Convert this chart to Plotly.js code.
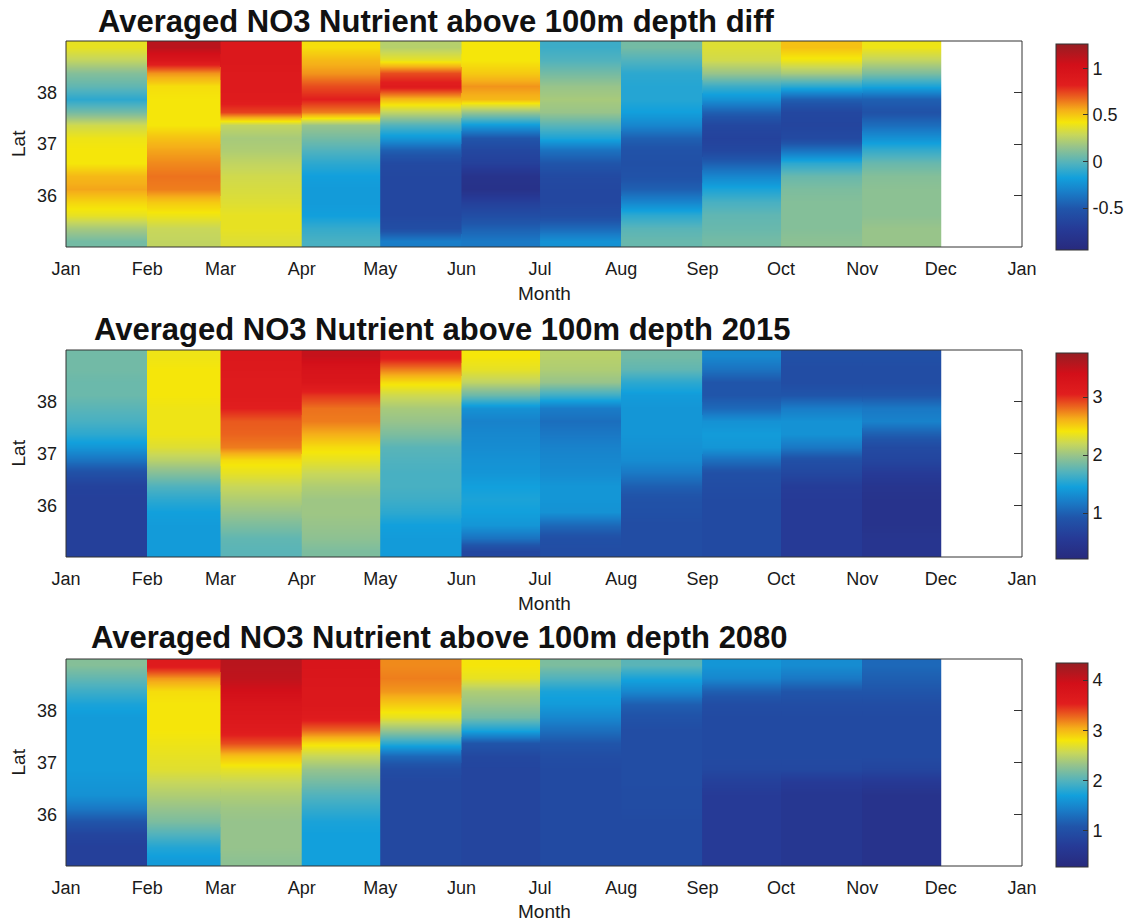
<!DOCTYPE html>
<html>
<head>
<meta charset="utf-8">
<script src="https://cdn.plot.ly/plotly-3.0.1.min.js"></script>
<style>
  html, body { margin: 0; padding: 0; background: #ffffff; }
  #chart { width: 1136px; height: 924px; }
</style>
</head>
<body>
<div id="chart"></div>
<script>
// ---------- DATA ----------
// Month bin edges (11 monthly columns, Jan..Nov)
const monthEdges = ['2015-01-01','2015-02-01','2015-03-01','2015-04-01','2015-05-01','2015-06-01',
                    '2015-07-01','2015-08-01','2015-09-01','2015-10-01','2015-11-01','2015-12-01'];
const monthTickVals = ['2015-01-01','2015-02-01','2015-03-01','2015-04-01','2015-05-01','2015-06-01',
                       '2015-07-01','2015-08-01','2015-09-01','2015-10-01','2015-11-01','2015-12-01','2016-01-01'];
const monthTickText = ['Jan','Feb','Mar','Apr','May','Jun','Jul','Aug','Sep','Oct','Nov','Dec','Jan'];
// Latitude row centres, north to south
const lat = [38.875, 38.625, 38.375, 38.125, 37.875, 37.625, 37.375, 37.125,
             36.875, 36.625, 36.375, 36.125, 35.875, 35.625, 35.375, 35.125];
const latTicks = [36, 37, 38];

// Panel 1: diff (one array per month, north -> south)
const diffCols = [
  [0.38, 0.27, 0.11, 0.02, -0.11, 0.07, 0.31, 0.40, 0.42, 0.42, 0.53, 0.57, 0.46, 0.38, 0.20, 0.07],
  [1.13, 0.93, 0.60, 0.44, 0.42, 0.42, 0.42, 0.51, 0.57, 0.62, 0.66, 0.64, 0.49, 0.40, 0.29, 0.27],
  [0.91, 0.91, 0.88, 0.88, 0.86, 0.75, 0.27, 0.20, 0.22, 0.27, 0.31, 0.33, 0.35, 0.38, 0.38, 0.35],
  [0.44, 0.53, 0.60, 0.73, 0.82, 0.64, 0.16, 0.07, -0.02, -0.11, -0.18, -0.20, -0.20, -0.18, -0.09, -0.04],
  [0.24, 0.38, 0.73, 0.86, 0.53, 0.27, -0.02, -0.22, -0.46, -0.60, -0.62, -0.62, -0.62, -0.62, -0.57, -0.33],
  [0.42, 0.42, 0.49, 0.60, 0.53, 0.16, -0.20, -0.51, -0.62, -0.68, -0.82, -0.84, -0.68, -0.57, -0.46, -0.35],
  [-0.07, -0.02, 0.07, 0.16, 0.20, 0.16, 0.00, -0.15, -0.38, -0.51, -0.60, -0.62, -0.62, -0.57, -0.42, -0.24],
  [0.07, -0.02, -0.11, -0.13, -0.13, -0.18, -0.29, -0.46, -0.53, -0.55, -0.53, -0.46, -0.29, -0.11, 0.00, 0.04],
  [0.35, 0.31, 0.16, -0.07, -0.24, -0.46, -0.62, -0.66, -0.62, -0.46, -0.29, -0.15, -0.04, 0.02, 0.04, 0.07],
  [0.51, 0.40, 0.20, -0.11, -0.46, -0.62, -0.64, -0.60, -0.38, -0.11, 0.04, 0.09, 0.11, 0.11, 0.11, 0.13],
  [0.40, 0.27, 0.09, -0.15, -0.46, -0.53, -0.40, -0.24, -0.09, 0.04, 0.11, 0.13, 0.13, 0.13, 0.16, 0.16]
];
// Panel 2: 2015
const cols2015 = [
  [1.84, 1.84, 1.81, 1.81, 1.74, 1.67, 1.56, 1.38, 1.13, 0.85, 0.67, 0.64, 0.64, 0.64, 0.64, 0.64],
  [2.38, 2.41, 2.41, 2.41, 2.38, 2.38, 2.38, 2.30, 2.13, 1.91, 1.70, 1.56, 1.45, 1.42, 1.42, 1.42],
  [3.19, 3.16, 3.12, 3.12, 3.05, 2.87, 2.84, 2.77, 2.45, 2.34, 2.20, 2.09, 1.99, 1.88, 1.77, 1.74],
  [3.48, 3.30, 3.23, 2.98, 2.80, 2.77, 2.62, 2.45, 2.34, 2.20, 2.09, 2.02, 2.02, 1.99, 1.95, 1.88],
  [3.12, 2.77, 2.45, 2.23, 2.06, 1.99, 1.88, 1.74, 1.70, 1.67, 1.67, 1.63, 1.56, 1.45, 1.42, 1.42],
  [2.41, 2.34, 2.16, 1.81, 1.35, 1.24, 1.28, 1.31, 1.35, 1.38, 1.45, 1.49, 1.45, 1.38, 1.13, 0.74],
  [2.13, 2.09, 1.99, 1.63, 1.20, 1.10, 1.17, 1.24, 1.28, 1.31, 1.38, 1.38, 1.35, 1.06, 0.85, 0.81],
  [1.84, 1.77, 1.56, 1.42, 1.38, 1.38, 1.38, 1.35, 1.31, 1.17, 0.99, 0.88, 0.85, 0.81, 0.81, 0.81],
  [1.28, 1.13, 0.92, 0.92, 1.06, 1.35, 1.42, 1.38, 1.10, 0.85, 0.81, 0.78, 0.78, 0.78, 0.78, 0.78],
  [0.85, 0.81, 0.81, 0.92, 1.20, 1.35, 1.35, 1.17, 0.85, 0.74, 0.60, 0.57, 0.57, 0.57, 0.57, 0.57],
  [0.85, 0.81, 0.81, 0.92, 1.17, 1.24, 0.99, 0.78, 0.71, 0.57, 0.46, 0.42, 0.42, 0.42, 0.46, 0.46]
];
// Panel 3: 2080
const cols2080 = [
  [2.23, 2.07, 1.90, 1.74, 1.66, 1.66, 1.66, 1.66, 1.66, 1.62, 1.58, 1.38, 1.09, 0.85, 0.77, 0.77],
  [3.61, 3.12, 2.84, 2.80, 2.80, 2.80, 2.76, 2.72, 2.68, 2.55, 2.43, 2.31, 2.19, 1.99, 1.78, 1.66],
  [4.10, 4.06, 3.93, 3.77, 3.69, 3.61, 3.37, 2.96, 2.72, 2.55, 2.43, 2.35, 2.31, 2.31, 2.31, 2.27],
  [3.77, 3.73, 3.69, 3.69, 3.61, 3.28, 2.84, 2.55, 2.31, 2.15, 1.99, 1.86, 1.74, 1.70, 1.70, 1.70],
  [3.16, 3.20, 3.12, 2.92, 2.72, 2.31, 1.82, 1.25, 0.97, 0.89, 0.89, 0.89, 0.89, 0.89, 0.89, 0.89],
  [2.80, 2.72, 2.43, 2.31, 2.15, 1.74, 1.09, 0.89, 0.85, 0.85, 0.85, 0.85, 0.85, 0.85, 0.85, 0.85],
  [2.19, 1.99, 1.74, 1.66, 1.50, 1.30, 1.09, 0.97, 0.93, 0.93, 0.93, 0.93, 0.93, 0.93, 0.93, 0.93],
  [2.03, 1.74, 1.50, 1.17, 1.05, 0.97, 0.97, 0.97, 0.97, 0.97, 0.95, 0.95, 0.93, 0.93, 0.93, 0.93],
  [1.62, 1.50, 1.17, 0.97, 0.93, 0.93, 0.93, 0.93, 0.89, 0.77, 0.69, 0.69, 0.69, 0.69, 0.69, 0.69],
  [1.54, 1.38, 1.09, 0.97, 0.93, 0.93, 0.93, 0.93, 0.89, 0.69, 0.60, 0.60, 0.60, 0.60, 0.60, 0.60],
  [1.25, 1.17, 1.09, 0.97, 0.93, 0.93, 0.93, 0.93, 0.85, 0.65, 0.52, 0.52, 0.52, 0.52, 0.52, 0.52]
];

const panelTitles = ['Averaged NO3 Nutrient above 100m depth diff',
                     'Averaged NO3 Nutrient above 100m depth 2015',
                     'Averaged NO3 Nutrient above 100m depth 2080'];
const colorRanges = [[-0.95, 1.26], [0.21, 3.76], [0.28, 4.34]];
const cbTickVals = [[-0.5, 0, 0.5, 1], [1, 2, 3], [1, 2, 3, 4]];
const cbTickText = [['-0.5', '0', '0.5', '1'], ['1', '2', '3'], ['1', '2', '3', '4']];
const xLabel = 'Month';
const yLabel = 'Lat';

// ---------- STYLE ----------
const jetPrint = [
  [0.00, 'rgb(40,42,125)'],
  [0.10, 'rgb(38,58,150)'],
  [0.20, 'rgb(32,85,170)'],
  [0.28, 'rgb(25,125,200)'],
  [0.35, 'rgb(18,160,220)'],
  [0.42, 'rgb(80,178,190)'],
  [0.50, 'rgb(150,195,140)'],
  [0.56, 'rgb(200,215,90)'],
  [0.62, 'rgb(245,230,10)'],
  [0.68, 'rgb(245,175,25)'],
  [0.74, 'rgb(235,100,30)'],
  [0.80, 'rgb(225,30,30)'],
  [0.90, 'rgb(210,15,25)'],
  [1.00, 'rgb(150,30,35)']
];
const FONT = 'Liberation Sans, Arial, Helvetica, sans-serif';
const INK = '#1a1a1a';
const AX = '#333333';

const W = 1136, H = 924;
const M = {l: 66, r: 114, t: 41, b: 58, autoexpand: false};
const plotH = H - M.t - M.b;          // 825
const plotW = W - M.l - M.r;          // 956
const px2x = px => (px - M.l) / plotW;
const py2y = py => (H - M.b - py) / plotH;

// panel pixel geometry
const panels = [
  {top: 41,  bot: 247, cbTop: 44,  cbBot: 250, tLeft: 96, tMid: 21},
  {top: 350, bot: 557, cbTop: 353, cbBot: 559, tLeft: 92, tMid: 329},
  {top: 659, bot: 866, cbTop: 663, cbBot: 867, tLeft: 89, tMid: 637}
];
const allCols = [diffCols, cols2015, cols2080];

const traces = [];
const layout = {
  width: W, height: H,
  margin: M,
  paper_bgcolor: '#ffffff',
  plot_bgcolor: '#ffffff',
  font: {family: FONT, size: 18, color: INK},
  showlegend: false,
  annotations: [],
  shapes: []
};

panels.forEach((p, k) => {
  const sfx = k === 0 ? '' : String(k + 1);
  const cax = 'coloraxis' + sfx;
  const cols = allCols[k];
  // base layer: whole panel, unsmoothed (fills the seams between months)
  traces.push({
    type: 'heatmap',
    x: monthEdges,
    y: lat,
    z: lat.map((_, r) => cols.map(col => col[r])),
    zsmooth: false,
    coloraxis: cax,
    xaxis: 'x' + sfx,
    yaxis: 'y' + sfx,
    hoverinfo: 'skip'
  });
  // one smoothed column per month (smooth in latitude, sharp between months)
  cols.forEach((col, i) => {
    traces.push({
      type: 'heatmap',
      x: [monthEdges[i], monthEdges[i + 1]],
      y: lat,
      z: col.map(v => [v]),
      zsmooth: 'best',
      coloraxis: cax,
      xaxis: 'x' + sfx,
      yaxis: 'y' + sfx,
      hoverinfo: 'skip'
    });
  });

  layout['xaxis' + sfx] = {
    type: 'date',
    domain: [0, 1],
    anchor: 'y' + sfx,
    range: ['2015-01-01', '2016-01-01'],
    tickmode: 'array',
    tickvals: monthTickVals,
    ticktext: monthTickText,
    ticks: 'inside', ticklen: 8, tickcolor: AX, tickwidth: 1,
    mirror: 'ticks',
    showline: false, showgrid: false, zeroline: false,
    layer: 'below traces',
    ticklabelstandoff: 9,
    tickfont: {size: 18, color: INK, family: FONT}
  };
  layout['yaxis' + sfx] = {
    domain: [py2y(p.bot), py2y(p.top)],
    anchor: 'x' + sfx,
    range: [35, 39],
    tickmode: 'array',
    tickvals: latTicks,
    ticks: 'inside', ticklen: 8, tickcolor: AX, tickwidth: 1,
    mirror: 'ticks',
    showline: false, showgrid: false, zeroline: false,
    layer: 'below traces',
    ticklabelstandoff: 8,
    tickfont: {size: 18, color: INK, family: FONT}
  };
  layout[cax] = {
    cmin: colorRanges[k][0],
    cmax: colorRanges[k][1],
    colorscale: jetPrint,
    colorbar: {
      x: px2x(1056), xanchor: 'left', xref: 'paper',
      y: py2y((p.cbTop + p.cbBot) / 2), yanchor: 'middle',
      len: p.cbBot - p.cbTop, lenmode: 'pixels',
      thickness: 32, thicknessmode: 'pixels',
      xpad: 0, ypad: 0,
      outlinewidth: 1, outlinecolor: AX,
      ticks: 'inside', ticklen: 5, tickcolor: AX,
      tickmode: 'array',
      tickvals: cbTickVals[k],
      ticktext: cbTickText[k],
      tickfont: {size: 18, color: INK, family: FONT}
    }
  };
  // box around plot area
  layout.shapes.push({
    type: 'rect', xref: 'x' + sfx + ' domain', yref: 'y' + sfx + ' domain',
    x0: 0, x1: 1, y0: 0, y1: 1,
    line: {color: AX, width: 1}, layer: 'above'
  });
  // titles
  layout.annotations.push({
    text: '<b>' + panelTitles[k] + '</b>',
    xref: 'paper', yref: 'paper',
    x: px2x(p.tLeft), y: py2y(p.tMid),
    xanchor: 'left', yanchor: 'middle',
    showarrow: false,
    font: {size: 31, color: '#111111', family: FONT}
  });
  layout.annotations.push({
    text: xLabel,
    xref: 'paper', yref: 'paper',
    x: 0.5, y: py2y(p.bot + 46),
    xanchor: 'center', yanchor: 'middle',
    showarrow: false,
    font: {size: 19, color: INK, family: FONT}
  });
  layout.annotations.push({
    text: yLabel,
    xref: 'paper', yref: 'paper',
    x: px2x(18), y: py2y((p.top + p.bot) / 2),
    xanchor: 'center', yanchor: 'middle',
    textangle: -90,
    showarrow: false,
    font: {size: 19, color: INK, family: FONT}
  });
});

Plotly.newPlot('chart', traces, layout, {displayModeBar: false, staticPlot: true});
</script>
</body>
</html>
